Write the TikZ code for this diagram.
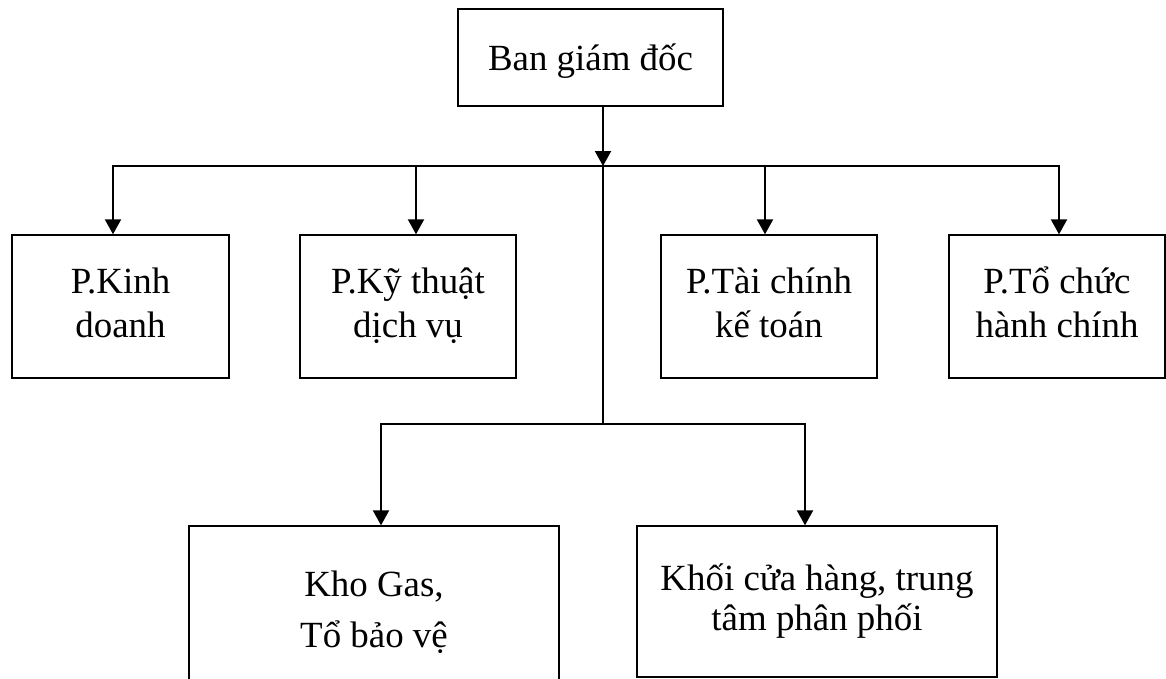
\documentclass[tikz,border=0pt]{standalone}
\usepackage{fontspec}
\setmainfont{Liberation Serif}
\usetikzlibrary{arrows.meta}
\tikzset{
  phong/.style={draw, line width=0.8pt, align=center, inner sep=0pt, font=\fontsize{21}{25.5}\selectfont},
  noi/.style={line width=1.2pt, line cap=rect},
  mui/.style={line width=1.2pt, -{Triangle[width=0.32cm, length=0.3cm]}}
}
\begin{document}
\begin{tikzpicture}[x=0.02cm, y=-0.02cm]
        \clip (0, 0) rectangle (1166, 679);
        % boxes
        \node[phong, minimum width=5.3cm, minimum height=1.94cm] (bgd) at (590.5, 57.5) {\rule[-5pt]{0pt}{25.3pt}Ban giám đốc};
        \node[phong, minimum width=4.34cm, minimum height=2.86cm] (kd) at (120.5, 306.5) {P.Kinh\strut\\doanh\strut};
        \node[phong, minimum width=4.32cm, minimum height=2.86cm] (kt) at (408, 306.5) {P.Kỹ thuật\strut\\dịch vụ\strut};
        \node[phong, minimum width=4.32cm, minimum height=2.86cm] (tc) at (769, 306.5) {P.Tài chính\strut\\kế toán\strut};
        \node[phong, minimum width=4.32cm, minimum height=2.86cm] (hc) at (1057, 306.5) {P.Tổ chức\strut\\hành chính\strut};
        \node[phong, minimum width=7.4cm, minimum height=3.48cm] (kho) at (374, 613) {Kho Gas,\strut\\[4pt]Tổ bảo vệ\strut};
        \node[phong, minimum width=7.2cm, minimum height=3.02cm] (ch) at (817, 601.5) {Khối cửa hàng, trung\strut\\[-2.8pt]tâm phân phối\strut};
        % junctions
        \coordinate (n0) at (603, 166);
        \coordinate (n1) at (603, 424);
        \coordinate (a1) at (113, 166);
        \coordinate (a2) at (416, 166);
        \coordinate (a3) at (765, 166);
        \coordinate (a4) at (1059, 166);
        \coordinate (b1) at (381, 424);
        \coordinate (b2) at (805, 424);
        % connectors
        \draw[mui] (bgd.south -| n0) -- (n0);
        \draw[noi] (a1) -- (a4);
        \draw[mui] (a1) -- (a1 |- kd.north);
        \draw[mui] (a2) -- (a2 |- kt.north);
        \draw[mui] (a3) -- (a3 |- tc.north);
        \draw[mui] (a4) -- (a4 |- hc.north);
        \draw[noi] (n0) -- (n1);
        \draw[noi] (b1) -- (b2);
        \draw[mui] (b1) -- (b1 |- kho.north);
        \draw[mui] (b2) -- (b2 |- ch.north);
\end{tikzpicture}
\end{document}
